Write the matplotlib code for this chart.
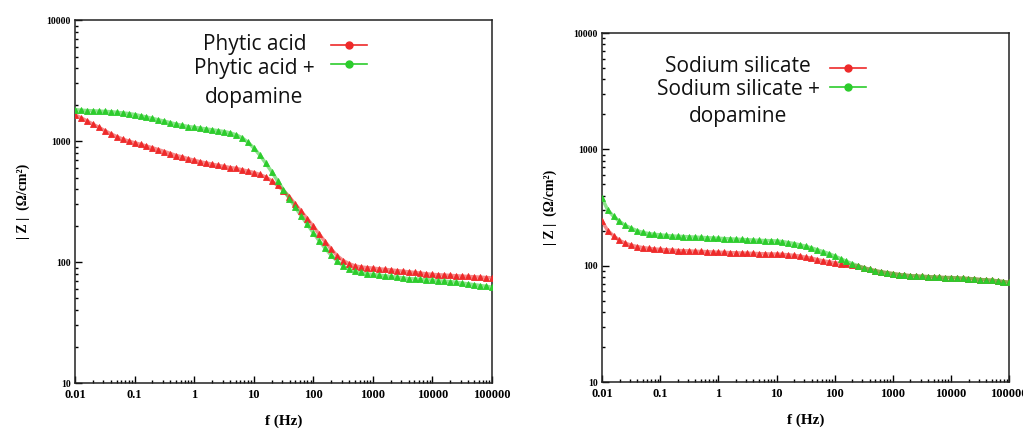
import numpy as np
import matplotlib
matplotlib.use("Agg")
import matplotlib.pyplot as plt
from matplotlib.lines import Line2D
from matplotlib.ticker import FixedLocator, FixedFormatter, LogLocator, NullFormatter

# frequency grid (Hz), 10 points per decade, 0.01 .. 100000
log_f = [round(-2.0 + 0.1 * i, 1) for i in range(71)]
freq = [10 ** v for v in log_f]

phytic = [1650, 1560, 1470, 1380, 1300, 1220, 1150, 1090, 1040, 1000,
          970, 940, 910, 880, 850, 820, 790, 760, 740, 715,
          695, 675, 660, 645, 630, 618, 605, 595, 580, 565,
          550, 530, 505, 470, 430, 390, 345, 300, 262, 228,
          198, 170, 147, 128, 113, 103, 97, 93, 91, 90,
          89, 88, 87, 86, 85, 84, 83, 82, 81, 80,
          79, 78.5, 78, 77.5, 77, 76.5, 76, 75.5, 75, 74.5, 74]
phytic_dop = [1820, 1800, 1790, 1780, 1770, 1760, 1750, 1730, 1710, 1690,
              1660, 1620, 1580, 1540, 1500, 1460, 1420, 1380, 1350, 1320,
              1300, 1280, 1260, 1240, 1220, 1200, 1170, 1130, 1070, 980,
              880, 770, 660, 560, 470, 395, 335, 283, 240, 205,
              175, 150, 130, 114, 102, 93, 87, 84, 82, 80,
              79, 78, 77, 76, 75, 74, 73, 72.5, 72, 71.5,
              71, 70, 69.5, 69, 68, 67, 66, 65, 64, 63, 62]
silicate = [240, 200, 180, 165, 156, 150, 146, 143, 141, 139,
            138, 137, 136, 135, 134.5, 134, 133, 132.5, 132, 131,
            130.5, 130, 129.5, 129, 128.5, 128, 127.5, 127, 126.5, 126,
            126, 125, 124, 122.5, 121, 118, 116, 113, 110, 108,
            106, 104, 102.5, 101, 99, 96, 93, 90.5, 88.5, 87,
            85.5, 84, 83, 82, 81.5, 81, 80.5, 80, 79.5, 79,
            79, 78.5, 78, 77.5, 77, 76, 75.5, 75, 74, 73, 72]
silicate_dop = [380, 300, 265, 240, 222, 210, 200, 193, 189, 186,
                184, 182, 180, 179, 178, 177, 176, 175, 174, 173,
                172, 171, 170, 169, 168, 167, 166, 165, 164.5, 164,
                163, 161, 158, 155, 151, 147, 142, 137, 132, 127,
                121, 115, 109, 104, 100, 96, 93, 90.5, 88.5, 87,
                85.5, 84, 83, 82, 81.5, 81, 80.5, 80, 79.5, 79,
                79, 78.5, 78, 77.5, 77, 76, 75.5, 75, 74, 73, 72]

xticks = [0.01, 0.1, 1, 10, 100, 1000, 10000, 100000]
xticklabels = ["0.01", "0.1", "1", "10", "100", "1000", "10000", "100000"]
yticks = [10, 100, 1000, 10000]
yticklabels = ["10", "100", "1000", "10000"]

RED = "#ee2a2a"
GREEN = "#2ccc2c"
SERIF = "Liberation Serif"
SANS = "Open Sans"

fig = plt.figure(figsize=(10.23, 4.34), dpi=100)
ax1 = fig.add_axes([0.0733, 0.1175, 0.4076, 0.836])
ax2 = fig.add_axes([0.5885, 0.1198, 0.398, 0.804])


def style(ax):
    ax.set_xscale("log")
    ax.set_yscale("log")
    ax.set_xlim(0.01, 100000)
    ax.set_ylim(10, 10000)
    ax.xaxis.set_major_locator(FixedLocator(xticks))
    ax.xaxis.set_major_formatter(FixedFormatter(xticklabels))
    ax.yaxis.set_major_locator(FixedLocator(yticks))
    ax.yaxis.set_major_formatter(FixedFormatter(yticklabels))
    ax.xaxis.set_minor_locator(LogLocator(base=10, subs=np.arange(2, 10)))
    ax.yaxis.set_minor_locator(LogLocator(base=10, subs=np.arange(2, 10)))
    ax.xaxis.set_minor_formatter(NullFormatter())
    ax.yaxis.set_minor_formatter(NullFormatter())
    ax.tick_params(which="both", direction="in", top=False, right=False, width=1.0)
    ax.tick_params(which="major", length=5)
    ax.tick_params(which="minor", length=2.5)
    for lab in ax.get_xticklabels():
        lab.set_fontfamily(SERIF)
        lab.set_fontweight("bold")
        lab.set_fontsize(9)
    for lab in ax.get_yticklabels():
        lab.set_fontfamily(SERIF)
        lab.set_fontweight("bold")
        lab.set_fontsize(7)
    ax.tick_params(axis="x", pad=4)
    ax.tick_params(axis="y", pad=3)
    for s in ax.spines.values():
        s.set_linewidth(1.1)
        s.set_color("#222222")
    ax.set_xlabel("f (Hz)", fontfamily=SERIF, fontweight="bold", fontsize=11, labelpad=10)
    ax.set_ylabel("| Z |  (Ω/cm²)", fontfamily=SERIF, fontweight="bold", fontsize=10, labelpad=12)


def series(ax, y, color):
    ax.plot(freq, y, color=color, lw=2.5, alpha=0.55, zorder=2)
    ax.plot(freq, y, ls="none", marker="^", ms=5, color=color,
            markeredgecolor=color, markeredgewidth=0.6, zorder=3)


for ax in (ax1, ax2):
    style(ax)

series(ax1, phytic, RED)
series(ax1, phytic_dop, GREEN)
series(ax2, silicate, RED)
series(ax2, silicate_dop, GREEN)


def legend(ax, labels, tx, ty, hx, hy):
    handles = [Line2D([], [], color=RED, marker="o", ms=5, lw=1.2),
               Line2D([], [], color=GREEN, marker="o", ms=5, lw=1.2)]
    ax.legend(handles, [" ", " "], loc="center", bbox_to_anchor=(hx, hy),
              frameon=False, handlelength=2.0, handletextpad=0.0,
              borderpad=0.0, labelspacing=0.05, fontsize=13,
              borderaxespad=0)
    for i, t in enumerate(labels):
        ax.text(tx, ty[i], t, transform=ax.transAxes, ha="center", va="center",
                fontsize=15, fontfamily=SANS, color="#111111")


legend(ax1, ["Phytic acid", "Phytic acid +", "dopamine"], 0.43,
       [0.934, 0.868, 0.788], 0.665, 0.903)
legend(ax2, ["Sodium silicate", "Sodium silicate +", "dopamine"], 0.334,
       [0.903, 0.837, 0.762], 0.611, 0.870)

fig.savefig("out.png", dpi=100)
